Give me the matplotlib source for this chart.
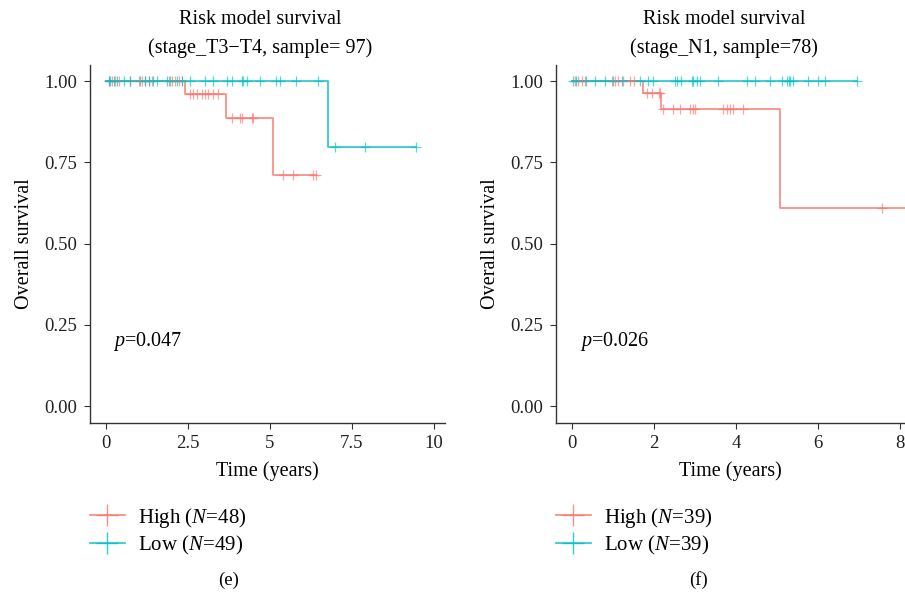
import matplotlib
matplotlib.use("Agg")
import matplotlib.pyplot as plt
from matplotlib.lines import Line2D
import numpy as np

plt.rcParams['font.family'] = ['Liberation Serif', 'DejaVu Serif']
plt.rcParams['mathtext.fontset'] = 'custom'
plt.rcParams['mathtext.rm'] = 'Liberation Serif'
plt.rcParams['mathtext.it'] = 'Liberation Serif:italic'
plt.rcParams['mathtext.bf'] = 'Liberation Serif:bold'

RED = '#F8766D'
CYAN = '#00BFC4'

# ---- Panel (e) data ----
e_high_times = [0, 2.41, 3.65, 5.08]
e_high_surv = [1.0, 0.962, 0.888, 0.710]
e_high_end = 6.40
e_high_cens = [0.07, 0.17, 0.27, 0.38, 0.73, 0.99, 1.09, 1.19, 1.29, 1.39, 1.90, 2.00, 2.10, 2.21, 2.31,
               2.56, 2.66, 2.76, 2.92, 3.02, 3.12, 3.27, 3.42,
               3.83, 4.09, 4.14, 4.44, 4.49,
               5.41, 5.71, 6.32, 6.40]
e_low_times = [0, 6.77]
e_low_surv = [1.0, 0.798]
e_low_end = 9.45
e_low_cens = [0.07, 0.12, 0.22, 0.32, 0.53, 0.73, 1.04, 1.19, 1.29, 1.44, 1.54, 1.85, 1.95, 2.15, 2.31,
              2.56, 3.02, 3.27, 3.68, 3.83, 4.14, 4.19, 4.29, 4.70, 5.20, 5.30, 5.81, 6.47,
              6.98, 7.90, 9.45]

# ---- Panel (f) data ----
f_high_times = [0, 1.72, 2.16, 5.07]
f_high_surv = [1.0, 0.965, 0.914, 0.610]
f_high_end = 8.5
f_high_cens = [0.07, 0.15, 0.24, 0.32, 0.97, 1.05, 1.13, 1.25, 1.41, 1.50,
               1.82, 1.94, 2.11, 2.15,
               2.23, 2.47, 2.63, 2.88, 2.96, 3.00, 3.69, 3.77, 3.85, 3.93, 4.16,
               7.55]
f_low_times = [0]
f_low_surv = [1.0]
f_low_end = 6.94
f_low_cens = [0.03, 0.10, 0.34, 0.56, 0.80, 1.01, 1.21, 1.66, 1.86, 1.98, 2.51, 2.55, 2.67, 2.92, 2.96,
              3.04, 3.12, 3.57, 4.26, 4.46, 4.83, 5.11, 5.24, 5.28, 5.32, 5.40, 5.76, 6.01, 6.17, 6.94]

panels = [
    dict(title="Risk model survival\n(stage_T3\u2212T4, sample= 97)", title_x=0.479,
         high=(e_high_times, e_high_surv, e_high_end, e_high_cens),
         low=(e_low_times, e_low_surv, e_low_end, e_low_cens),
         xticks=[0, 2.5, 5, 7.5, 10], xticklabels=['0', '2.5', '5', '7.5', '10'],
         xlim=(-0.5, 10.35), pval="0.047",
         labels=("48", "49"), letter="(e)", letter_x=229),
    dict(title="Risk model survival\n(stage_N1, sample=78)", title_x=0.481,
         high=(f_high_times, f_high_surv, f_high_end, f_high_cens),
         low=(f_low_times, f_low_surv, f_low_end, f_low_cens),
         xticks=[0, 2, 4, 6, 8], xticklabels=['0', '2', '4', '6', '8'],
         xlim=(-0.39, 8.12), pval="0.026",
         labels=("39", "39"), letter="(f)", letter_x=698),
]

fig = plt.figure(figsize=(9.05, 5.95), dpi=100)
rects = [[90/905, 1-423/595, 355/905, 358/595],
         [556/905, 1-423/595, 349/905, 358/595]]

def surv_at(t, times, surv):
    idx = np.searchsorted(times, t, side='right') - 1
    return surv[max(idx, 0)]

for p, r in zip(panels, rects):
    ax = fig.add_axes(r)
    for key, col in (('high', RED), ('low', CYAN)):
        times, surv, end, cens = p[key]
        xs = list(times) + [end]
        ys = list(surv) + [surv[-1]]
        ax.step(xs, ys, where='post', color=col, lw=1.3, alpha=0.8, zorder=3)
        cy = [surv_at(c, times, surv) for c in cens]
        ax.plot(cens, cy, linestyle='none', marker='+', color=col, ms=7, mew=0.9, alpha=0.65, zorder=4)
    ax.set_xlim(*p['xlim'])
    ax.set_ylim(-0.052, 1.05)
    ax.set_yticks([0, 0.25, 0.5, 0.75, 1.0])
    ax.set_yticklabels(['0.00', '0.25', '0.50', '0.75', '1.00'])
    ax.set_xticks(p['xticks'])
    ax.set_xticklabels(p['xticklabels'])
    for s in ('top', 'right'):
        ax.spines[s].set_visible(False)
    for s in ('left', 'bottom'):
        ax.spines[s].set_color('#333333')
        ax.spines[s].set_linewidth(1.0)
    ax.tick_params(labelsize=13.5, length=4, color='#333333', labelcolor='#222222', pad=5)
    ax.set_xlabel("Time (years)", fontsize=14.5, labelpad=6)
    ax.set_ylabel("Overall survival", fontsize=14.5, labelpad=8)
    ax.set_title(p['title'], fontsize=14.5, pad=9, linespacing=1.6, x=p['title_x'])
    ax.text(0.2, 0.2, r"$\it{p}$=" + p['pval'], fontsize=14.5, ha='left', va='center')
    handles = [Line2D([], [], color=RED, lw=1.3, marker='+', ms=16, mew=1.0, alpha=0.8),
               Line2D([], [], color=CYAN, lw=1.3, marker='+', ms=16, mew=1.0, alpha=0.8)]
    labs = ["High ($\\it{N}$=%s)" % p['labels'][0], "Low ($\\it{N}$=%s)" % p['labels'][1]]
    fig.legend(handles, labs, loc='upper left',
               bbox_to_anchor=(r[0] - 0.021, 1 - 487/595), frameon=False,
               fontsize=15, handlelength=1.7, handletextpad=0.6, labelspacing=0.2)
    fig.text(p['letter_x'] / 905, 1 - 580/595, p['letter'], fontsize=13.5, ha='center', va='center')

fig.savefig("out.png", dpi=100)
